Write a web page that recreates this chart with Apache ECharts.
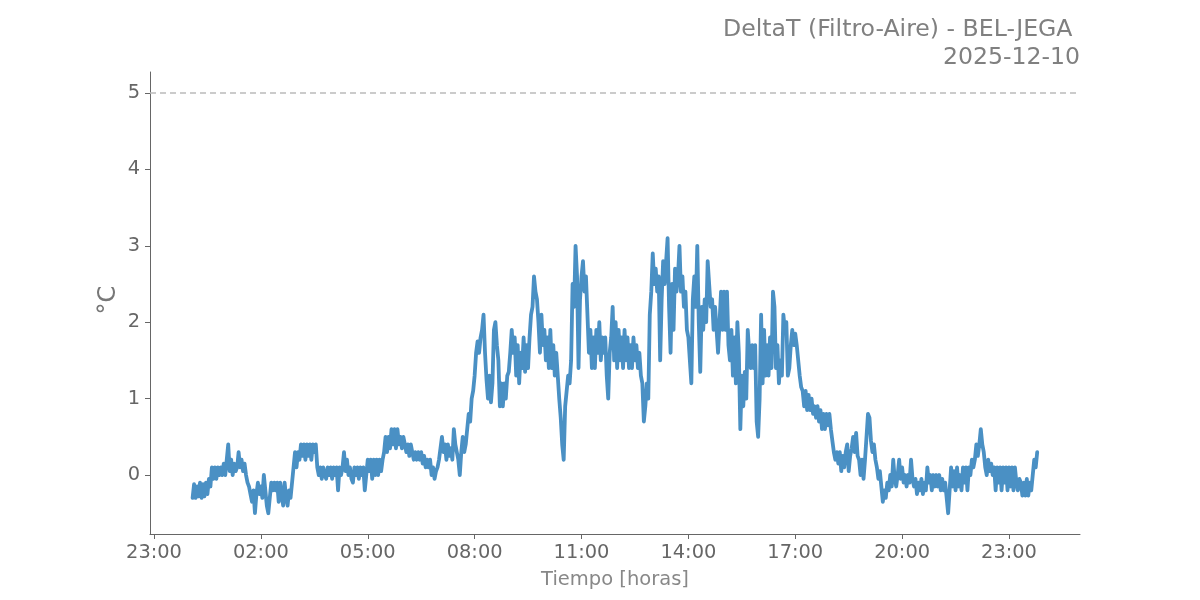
<!DOCTYPE html>
<html>
<head>
<meta charset="utf-8">
<script src="https://cdn.jsdelivr.net/npm/echarts@6/dist/echarts.min.js"></script>
<style>html,body{margin:0;padding:0;background:#fff}#c{width:1200px;height:600px}</style>
</head>
<body>
<div id="c"></div>
<script>
// Sampling: one reading every 2.5 minutes; h00 starts at 00:05, every later hour starts at HH:00
const stepMinutes = 2.5;
// DeltaT values (°C), grouped by hour of day
const h00 = [-0.3,-0.12,-0.3,-0.15,-0.28,-0.1,-0.3,-0.12,-0.28,-0.1,-0.25,-0.05,-0.15,0.1,-0.05,0.1,-0.05,0.1,0.0,0.1,0.0,0.15];
const h01 = [0.0,0.2,0.4,0.05,0.2,0.0,0.15,0.05,0.1,0.3,0.1,0.2,0.05,0.15,0.0,-0.1,-0.15,-0.25,-0.35,-0.2,-0.5,-0.25,-0.1,-0.25];
const h02 = [-0.15,-0.3,0.0,-0.2,-0.4,-0.5,-0.3,-0.1,-0.2,-0.1,-0.2,-0.1,-0.35,-0.1,-0.25,-0.4,-0.1,-0.3,-0.4,-0.2,-0.3,-0.1,0.1,0.3];
const h03 = [0.1,0.3,0.2,0.4,0.25,0.4,0.2,0.4,0.25,0.4,0.2,0.4,0.3,0.4,0.1,0.0,0.1,-0.05,0.1,0.0,-0.05,0.1,0.0,0.1];
const h04 = [-0.05,0.1,0.0,0.1,-0.2,0.1,0.0,0.1,0.3,0.05,0.2,0.0,0.1,-0.05,-0.1,0.1,0.0,0.1,-0.05,0.1,0.0,0.1,-0.2,0.0];
const h05 = [0.2,0.05,0.2,-0.05,0.2,0.0,0.2,0.0,0.2,0.05,0.2,0.3,0.5,0.3,0.5,0.35,0.6,0.4,0.6,0.35,0.6,0.4,0.5,0.35];
const h06 = [0.5,0.4,0.3,0.4,0.25,0.4,0.3,0.2,0.3,0.2,0.3,0.2,0.3,0.15,0.25,0.1,0.2,0.1,0.2,0.0,0.1,-0.05,0.05,0.1];
const h07 = [0.2,0.35,0.5,0.3,0.4,0.2,0.4,0.25,0.35,0.2,0.6,0.4,0.3,0.2,0.0,0.3,0.5,0.3,0.4,0.6,0.8,0.7,1.0,1.1];
const h08 = [1.3,1.6,1.75,1.6,1.8,1.9,2.1,1.6,1.25,1.0,1.3,0.95,1.2,1.9,2.0,1.7,1.5,0.9,1.2,0.9,1.2,1.0,1.3,1.35];
const h09 = [1.6,1.9,1.6,1.8,1.3,1.7,1.2,1.6,1.4,1.8,1.35,1.7,1.4,1.8,2.1,2.2,2.6,2.4,2.3,2.0,1.6,2.1,1.7,1.9];
const h10 = [1.5,1.8,1.4,1.9,1.4,1.7,1.3,1.6,1.3,1.0,0.75,0.4,0.2,0.9,1.1,1.3,1.2,1.5,2.5,2.2,3.0,2.6,1.4,2.3];
const h11 = [2.6,2.8,2.4,2.6,2.1,1.6,1.9,1.4,1.8,1.4,1.9,1.6,2.0,1.5,1.8,1.6,1.8,1.3,1.0,1.6,1.8,2.2,1.5,2.0];
const h12 = [1.4,1.9,1.5,1.8,1.4,1.9,1.5,1.8,1.4,1.7,1.4,1.8,1.5,1.7,1.4,1.6,1.3,1.2,0.7,0.9,1.2,1.0,2.1,2.4];
const h13 = [2.9,2.5,2.7,2.4,2.6,1.5,2.3,2.8,2.5,2.8,3.1,2.2,1.6,2.5,1.9,2.7,2.4,2.6,3.0,2.4,2.6,2.2,2.4,1.9];
const h14 = [1.8,1.5,1.2,2.3,2.6,2.2,3.0,2.0,1.35,2.2,1.9,2.3,2.0,2.8,2.5,2.2,2.3,1.9,2.2,1.9,1.6,2.0,2.4,1.9];
const h15 = [2.4,1.9,2.4,1.7,1.5,1.9,1.3,1.8,1.2,2.0,1.6,0.6,1.3,0.9,1.35,1.0,1.9,1.6,1.4,1.7,1.4,1.7,0.7,0.5];
const h16 = [1.0,2.1,1.2,1.9,1.3,1.7,1.3,1.8,1.4,2.4,2.2,1.4,1.7,1.2,1.5,1.3,2.1,1.9,2.0,1.3,1.4,1.7,1.9,1.7];
const h17 = [1.85,1.7,1.5,1.3,1.15,1.1,0.9,1.1,0.85,1.05,0.85,1.0,0.8,0.9,0.75,0.9,0.7,0.85,0.6,0.8,0.6,0.8,0.65,0.8];
const h18 = [0.6,0.45,0.3,0.2,0.3,0.15,0.3,0.05,0.25,0.1,0.3,0.4,0.05,0.25,0.35,0.5,0.3,0.55,0.25,0.2,0.0,0.2,-0.05,0.2];
const h19 = [0.5,0.8,0.75,0.45,0.3,0.4,0.2,0.1,-0.05,0.05,-0.15,-0.35,-0.2,-0.3,-0.1,-0.2,0.0,-0.15,0.2,-0.05,-0.15,0.0,0.2,-0.05];
const h20 = [0.1,-0.1,0.0,-0.15,0.0,-0.1,0.2,-0.05,-0.15,-0.05,-0.25,-0.1,-0.2,-0.05,-0.25,-0.1,-0.2,0.1,-0.1,0.0,-0.2,0.0,-0.15,0.0];
const h21 = [-0.15,0.0,-0.2,-0.05,-0.2,-0.1,-0.3,-0.5,-0.2,0.1,-0.15,0.05,-0.2,0.1,-0.15,0.0,-0.2,0.1,-0.1,0.1,-0.2,0.1,0.0,0.2];
const h22 = [0.1,0.2,0.4,0.25,0.4,0.6,0.4,0.3,0.1,0.0,0.2,0.05,0.15,0.0,0.1,-0.2,0.1,-0.1,0.1,-0.2,0.1,-0.1,0.1,-0.2];
const h23 = [0.1,-0.15,0.1,-0.2,0.1,-0.1,-0.2,-0.05,-0.1,-0.27,-0.1,-0.27,-0.05,-0.27,-0.1,-0.2,0.0,0.2,0.1,0.3];
const hours = [h00,h01,h02,h03,h04,h05,h06,h07,h08,h09,h10,h11,h12,h13,h14,h15,h16,h17,h18,h19,h20,h21,h22,h23];
const firstMinute = [5];
// Axis ticks
const xTicks = [-1,2,5,8,11,14,17,20,23];
const yTicks = [0,1,2,3,4,5];
const limitValue = 5;
const titleLines = ['DeltaT (Filtro-Aire) - BEL-JEGA ', '2025-12-10'];
const yAxisName = '°C';

const seriesData = [];
hours.forEach((arr, h) => {
  const m0 = h === 0 ? firstMinute[0] : h * 60;
  arr.forEach((v, i) => seriesData.push([(m0 + i * stepMinutes) / 60, v]));
});

const pad = n => (n<10?'0':'')+n;
const fmtHour = h => pad(((Math.round(h)%24)+24)%24) + ':00';

const chart = echarts.init(document.getElementById('c'), null, {renderer:'canvas'});
const font = 'DejaVu Sans';
chart.setOption({
  animation:false,
  backgroundColor:'#fff',
  graphic:[{
    type:'text', x:1080, y:16, silent:true,
    style:{text:titleLines.join('\n'), fill:'#808080', font:'23.6px "DejaVu Sans"',
      textAlign:'right', textVerticalAlign:'top', lineHeight:28}
  },{
    type:'text', x:109, y:300, rotation:Math.PI/2, silent:true,
    style:{text:yAxisName, fill:'#777', font:'24px "DejaVu Sans"',
      textAlign:'center', textVerticalAlign:'middle'}
  }],
  grid:{left:150,right:120,top:72,bottom:66},
  xAxis:{
    type:'value',
    min:-1.1123, max:24.993,
    name:'Tiempo [horas]',
    nameLocation:'middle', nameGap:36,
    nameTextStyle:{fontFamily:font,fontSize:19.5,color:'#888'},
    axisLine:{show:true,onZero:false,lineStyle:{color:'#666',width:1}},
    axisTick:{show:true,length:5,customValues:xTicks,lineStyle:{color:'#666'}},
    axisLabel:{customValues:xTicks,formatter:fmtHour,fontFamily:font,fontSize:19.4,color:'#666',margin:9},
    splitLine:{show:false}
  },
  yAxis:{
    type:'value',
    min:-0.772, max:5.275,
    axisLine:{show:true,onZero:false,lineStyle:{color:'#666',width:1}},
    axisTick:{show:true,length:5,customValues:yTicks,lineStyle:{color:'#666'}},
    axisLabel:{customValues:yTicks,fontFamily:font,fontSize:19.4,color:'#666',margin:10},
    splitLine:{show:false}
  },
  series:[{
    type:'line',
    data:seriesData,
    showSymbol:false,
    lineStyle:{color:'#4a90c4',width:3.8,join:'round',cap:'round'},
    itemStyle:{color:'#4a90c4'},
    markLine:{
      silent:true, symbol:['none','none'],
      label:{show:false},
      lineStyle:{type:[6,4],color:'#bbb',width:1.5},
      data:[{yAxis:limitValue}]
    }
  }]
});
</script>
</body>
</html>
